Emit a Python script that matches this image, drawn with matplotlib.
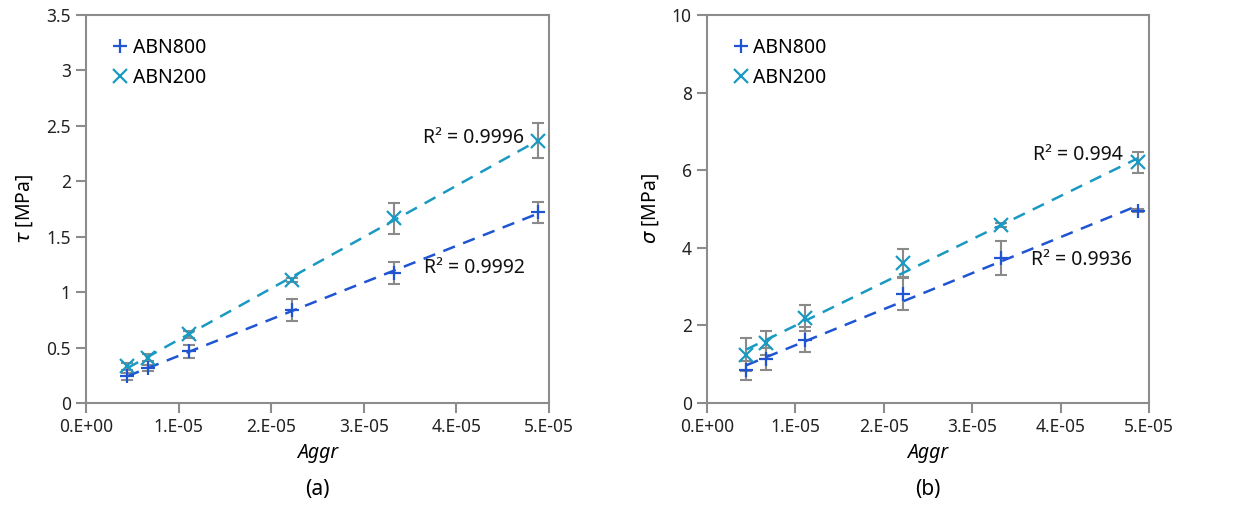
import numpy as np
import matplotlib
matplotlib.use("Agg")
import matplotlib.pyplot as plt

plt.rcParams['font.family'] = ['Noto Sans', 'DejaVu Sans']

aggr = [4.45e-6, 6.66e-6, 1.11e-5, 2.22e-5, 3.33e-5, 4.88e-5]

# (a) shear strength tau [MPa]
tau_800 = [0.24, 0.315, 0.465, 0.84, 1.17, 1.72]
tau_800_err = [0.03, 0.03, 0.06, 0.10, 0.10, 0.095]
tau_200 = [0.33, 0.41, 0.62, 1.11, 1.667, 2.367]
tau_200_err = [0.03, 0.03, 0.03, 0.02, 0.14, 0.16]

# (b) sigma [MPa]
sig_800 = [0.84, 1.13, 1.63, 2.82, 3.73, 4.96]
sig_800_err = [0.25, 0.28, 0.32, 0.42, 0.44, 0.05]
sig_200 = [1.245, 1.545, 2.19, 3.60, 4.59, 6.21]
sig_200_err = [0.43, 0.30, 0.34, 0.38, 0.05, 0.27]

r2_a = ["R² = 0.9992", "R² = 0.9996"]
r2_b = ["R² = 0.9936", "R² = 0.994"]
xtick_vals = [0, 1e-5, 2e-5, 3e-5, 4e-5, 5e-5]
xtick_labels = ["0.E+00", "1.E-05", "2.E-05", "3.E-05", "4.E-05", "5.E-05"]

c800 = '#1f55d2'
c200 = '#1a9ac2'
cerr = '#8a8a8a'
cspine = '#8c8c8c'

fig = plt.figure(figsize=(12.47, 5.05), dpi=100)
axA = fig.add_axes([86/1247, 1-403/505, 463/1247, 388/505])
axB = fig.add_axes([707/1247, 1-403/505, 442/1247, 388/505])


def panel(ax, y8, e8, y2, e2, ylim, yticks, yticklabels, ylabel, r2, r2pos, tag):
    x = np.array(aggr)
    for y, e, col, mk, lab in [(y8, e8, c800, '+', 'ABN800'), (y2, e2, c200, 'x', 'ABN200')]:
        y = np.array(y)
        ax.errorbar(x, y, yerr=e, fmt='none', ecolor=cerr, elinewidth=1.5, capsize=4, capthick=1.5, zorder=2)
        p = np.polyfit(x, y, 1)
        xx = np.array([x[0], x[-1]])
        ax.plot(xx, np.polyval(p, xx), '--', color=col, lw=1.8, dashes=(5, 3.5), zorder=3)
        ax.plot(x, y, linestyle='none', marker=mk, color=col, ms=9.5, mew=1.6, label=lab, zorder=4)
    ax.set_xlim(0, 5e-5)
    ax.set_ylim(*ylim)
    ax.set_xticks(xtick_vals)
    ax.set_xticklabels(xtick_labels)
    ax.set_yticks(yticks)
    ax.set_yticklabels(yticklabels)
    for s in ax.spines.values():
        s.set_color(cspine)
        s.set_linewidth(1.5)
    ax.tick_params(direction='out', length=7, width=1.5, color=cspine, labelsize=12.5, labelcolor='#222222', pad=4)
    ax.set_xlabel('Aggr', fontsize=14, style='italic', labelpad=5)
    ax.set_ylabel(ylabel, fontsize=14, labelpad=8)
    ax.legend(loc='upper left', bbox_to_anchor=(0.045, 0.962), frameon=False, fontsize=14,
              handlelength=0.6, handletextpad=0.35, labelspacing=0.55, borderaxespad=0)
    for (tx, ty, ha), t in zip(r2pos, r2):
        ax.text(tx, ty, t, fontsize=14, ha=ha, va='center', color='#111111')
    ax.text(0.5, -0.224, tag, transform=ax.transAxes, ha='center', va='center', fontsize=15)


panel(axA, tau_800, tau_800_err, tau_200, tau_200_err, (0, 3.5),
      [0, 0.5, 1, 1.5, 2, 2.5, 3, 3.5], ["0", "0.5", "1", "1.5", "2", "2.5", "3", "3.5"],
      r'$\tau$ [MPa]', r2_a, [(3.65e-5, 1.22, 'left'), (4.73e-5, 2.39, 'right')], '(a)')
panel(axB, sig_800, sig_800_err, sig_200, sig_200_err, (0, 10),
      [0, 2, 4, 6, 8, 10], ["0", "2", "4", "6", "8", "10"],
      r'$\sigma$ [MPa]', r2_b, [(3.66e-5, 3.68, 'left'), (4.7e-5, 6.4, 'right')], '(b)')

fig.savefig('out.png', dpi=100)
